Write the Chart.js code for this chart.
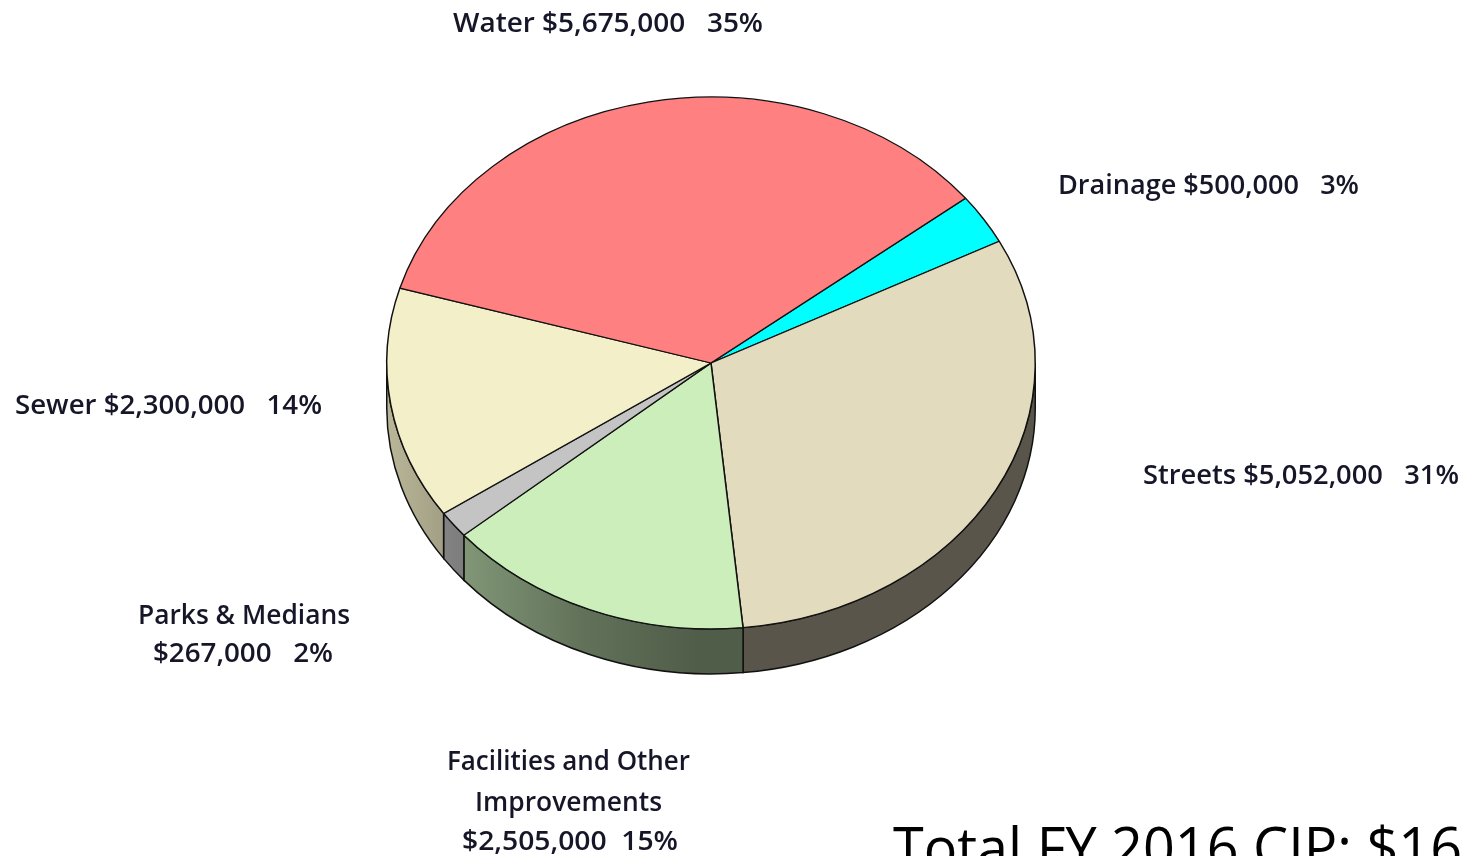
<!DOCTYPE html>
<html>
<head>
<meta charset="utf-8">
<script src="https://cdn.jsdelivr.net/npm/chart.js@4.4.1/dist/chart.umd.min.js"></script>
<style>
  html, body { margin: 0; padding: 0; background: #ffffff; }
  #c { display: block; }
</style>
</head>
<body>
<canvas id="c" width="1468" height="856"></canvas>
<script>
// ---- data ----
const categories = ['Drainage', 'Streets', 'Facilities and Other Improvements', 'Parks & Medians', 'Sewer', 'Water'];
const amounts = [500000, 5052000, 2505000, 267000, 2300000, 5675000];
const sliceColors = ['#00FFFF', '#E3DBBD', '#CCEEBB', '#C4C4C4', '#F3EFC8', '#FF8080'];
const totalTitle = 'Total FY 2016 CIP: ';

const total = amounts.reduce((a, b) => a + b, 0);
const pct = amounts.map(v => Math.round(v / total * 100) + '%');
const money = v => '$' + v.toLocaleString('en-US');

// ---- label layout (text lines, position, target width) ----
const labelLayout = [
  { i: 0, lines: [[categories[0] + ' ' + money(amounts[0]) + '   ' + pct[0], 'left', 1058, 193.5, 301]] },
  { i: 1, lines: [[categories[1] + ' ' + money(amounts[1]) + '   ' + pct[1], 'left', 1143, 483.5, 316]] },
  { i: 2, lines: [['Facilities and Other', 'center', 568.5, 769.5, 243],
                  ['Improvements', 'center', 568.5, 811, 187],
                  [money(amounts[2]) + '  ' + pct[2], 'center', 570, 849.5, 216]] },
  { i: 3, lines: [['Parks & Medians', 'center', 244, 623.5, 212],
                  [money(amounts[3]) + '   ' + pct[3], 'center', 243, 661.5, 180]] },
  { i: 4, lines: [[categories[4] + ' ' + money(amounts[4]) + '   ' + pct[4], 'left', 15, 413.5, 307]] },
  { i: 5, lines: [[categories[5] + ' ' + money(amounts[5]) + '   ' + pct[5], 'center', 608, 31.5, 310]] }
];

const K = 0.82;      // vertical squash of the top face
const DEPTH = 45;    // thickness of the pie

function hexToRgb(h) {
  const n = parseInt(h.slice(1), 16);
  return [(n >> 16) & 255, (n >> 8) & 255, n & 255];
}
function shade(h, f) {
  const [r, g, b] = hexToRgb(h);
  return 'rgb(' + Math.round(r * f) + ',' + Math.round(g * f) + ',' + Math.round(b * f) + ')';
}

const pie3d = {
  id: 'pie3d',
  beforeDatasetsDraw(chart) {
    const ctx = chart.ctx;
    const arcs = chart.getDatasetMeta(0).data;
    const cx = arcs[0].x, cy = arcs[0].y, R = arcs[0].outerRadius;
    const Ry = R * K;
    arcs.forEach((arc, idx) => {
      const s = arc.startAngle, e = arc.endAngle;
      [-2 * Math.PI, 0, 2 * Math.PI].forEach(sh => {
        const a0 = Math.max(s + sh, 0), a1 = Math.min(e + sh, Math.PI);
        if (a1 <= a0) return;
        const g = ctx.createLinearGradient(cx - R, 0, cx + R, 0);
        const c = sliceColors[idx];
        g.addColorStop(0, shade(c, 0.76));
        g.addColorStop(0.13, shade(c, 0.62));
        g.addColorStop(0.3, shade(c, 0.48));
        g.addColorStop(0.48, shade(c, 0.39));
        g.addColorStop(1, shade(c, 0.39));
        ctx.save();
        ctx.beginPath();
        ctx.ellipse(cx, cy, R, Ry, 0, a0, a1, false);
        ctx.ellipse(cx, cy + DEPTH, R, Ry, 0, a1, a0, true);
        ctx.closePath();
        ctx.fillStyle = g;
        ctx.fill();
        ctx.lineWidth = 1.5;
        ctx.strokeStyle = '#111';
        ctx.stroke();
        ctx.restore();
      });
    });
    ctx.save();
    ctx.translate(0, cy);
    ctx.scale(1, K);
    ctx.translate(0, -cy);
  },
  afterDatasetsDraw(chart) {
    chart.ctx.restore();
  },
  afterDraw(chart) {
    const ctx = chart.ctx;
    ctx.save();
    ctx.fillStyle = '#161628';
    ctx.textBaseline = 'alphabetic';
    ctx.font = '600 27px "Open Sans"';
    labelLayout.forEach(lab => {
      lab.lines.forEach(([txt, align, x, y, w]) => {
        const nat = ctx.measureText(txt).width;
        const sx = w / nat;
        ctx.save();
        const left = align === 'center' ? x - w / 2 : x;
        ctx.translate(left, y);
        ctx.scale(sx, 1);
        ctx.textAlign = 'left';
        ctx.fillText(txt, 0, 0);
        ctx.restore();
      });
    });
    ctx.fillStyle = '#000000';
    ctx.font = '400 56px "Open Sans"';
    const prefix = totalTitle + '$16';
    const full = totalTitle + money(total);
    const sx = 569 / ctx.measureText(prefix).width;
    ctx.translate(893, 868);
    ctx.scale(sx, 1);
    ctx.fillText(full, 0, 0);
    ctx.restore();
  }
};

new Chart(document.getElementById('c'), {
  type: 'pie',
  data: {
    labels: categories,
    datasets: [{
      data: amounts,
      backgroundColor: sliceColors,
      borderColor: '#111111',
      borderWidth: 1.5,
      hoverOffset: 0
    }]
  },
  options: {
    responsive: false,
    devicePixelRatio: 1,
    animation: false,
    rotation: 51.7,
    layout: { padding: { left: 386, right: 432, top: 38, bottom: 168 } },
    plugins: { legend: { display: false }, tooltip: { enabled: false } },
    events: []
  },
  plugins: [pie3d]
});
</script>
</body>
</html>
